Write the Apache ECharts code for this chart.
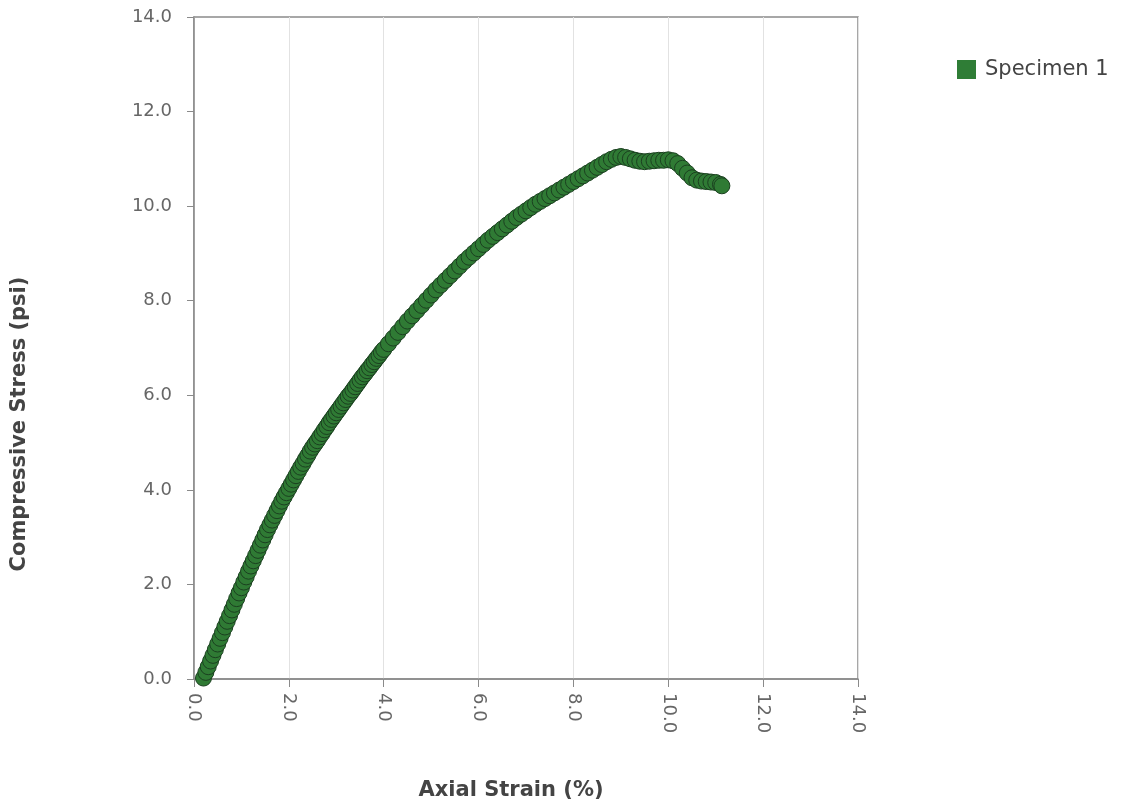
<!DOCTYPE html>
<html>
<head>
<meta charset="utf-8">
<script src="https://cdn.jsdelivr.net/npm/echarts@6/dist/echarts.min.js"></script>
<style>html,body{margin:0;padding:0;background:#fff;}#c{width:1127px;height:807px;}</style>
</head>
<body>
<div id="c"></div>
<script>
const seriesName = 'Specimen 1';
const xTitle = 'Axial Strain (%)';
const yTitle = 'Compressive Stress (psi)';
const strain = [0.2,0.25,0.3,0.35,0.4,0.45,0.5,0.55,0.6,0.65,0.7,0.75,0.8,0.85,0.9,0.95,1.0,1.05,1.1,1.15,1.2,1.25,1.3,1.35,1.4,1.45,1.5,1.55,1.6,1.65,1.7,1.75,1.8,1.85,1.9,1.95,2.0,2.05,2.1,2.15,2.2,2.25,2.3,2.35,2.4,2.45,2.5,2.55,2.6,2.65,2.7,2.75,2.8,2.85,2.9,2.95,3.0,3.05,3.1,3.15,3.2,3.25,3.3,3.35,3.4,3.45,3.5,3.55,3.6,3.65,3.7,3.75,3.8,3.85,3.9,3.95,4.0,4.1,4.2,4.3,4.4,4.5,4.6,4.7,4.8,4.9,5.0,5.1,5.2,5.3,5.4,5.5,5.6,5.7,5.8,5.9,6.0,6.1,6.2,6.3,6.4,6.5,6.6,6.7,6.8,6.9,7.0,7.1,7.2,7.3,7.4,7.5,7.6,7.7,7.8,7.9,8.0,8.1,8.2,8.3,8.4,8.5,8.6,8.7,8.8,8.9,9.0,9.1,9.2,9.3,9.4,9.5,9.6,9.7,9.8,9.9,10.0,10.1,10.2,10.3,10.4,10.5,10.6,10.7,10.8,10.9,11.0,11.1,11.13];
const stress = [0.02,0.14,0.26,0.38,0.50,0.62,0.74,0.86,0.98,1.10,1.22,1.34,1.46,1.58,1.70,1.82,1.93,2.05,2.16,2.28,2.39,2.50,2.61,2.72,2.83,2.94,3.05,3.16,3.26,3.36,3.46,3.56,3.66,3.76,3.85,3.94,4.03,4.12,4.21,4.30,4.39,4.48,4.56,4.65,4.73,4.82,4.90,4.97,5.04,5.12,5.19,5.27,5.34,5.42,5.49,5.56,5.63,5.70,5.77,5.84,5.91,5.98,6.04,6.11,6.18,6.25,6.32,6.39,6.45,6.52,6.58,6.65,6.71,6.78,6.84,6.91,6.97,7.09,7.21,7.33,7.45,7.57,7.68,7.79,7.90,8.01,8.12,8.23,8.33,8.43,8.53,8.63,8.73,8.83,8.92,9.01,9.10,9.19,9.28,9.36,9.44,9.52,9.60,9.68,9.76,9.83,9.90,9.97,10.04,10.10,10.16,10.22,10.28,10.34,10.40,10.46,10.52,10.58,10.64,10.70,10.76,10.82,10.88,10.94,10.99,11.03,11.05,11.03,11.00,10.97,10.95,10.94,10.95,10.96,10.97,10.97,10.98,10.96,10.90,10.80,10.70,10.60,10.55,10.53,10.52,10.51,10.50,10.46,10.43];
const points = strain.map((s, i) => [s, stress[i]]);

const chart = echarts.init(document.getElementById('c'), null, {renderer: 'canvas'});
const labelStyle = {color: '#666', fontSize: 18, fontFamily: 'DejaVu Sans'};
chart.setOption({
  animation: false,
  backgroundColor: '#fff',
  grid: {left: 194, right: 269, top: 17, bottom: 128, show: true, borderColor: '#8a8a8a', borderWidth: 1.5, backgroundColor: 'transparent'},
  legend: {
    left: 952, top: 54, orient: 'vertical', icon: 'rect', itemWidth: 19, itemHeight: 19,
    textStyle: {color: '#444', fontSize: 21, fontFamily: 'DejaVu Sans', padding: [0, 0, 0, 4]},
    data: [{name: seriesName, itemStyle: {color: '#2f7d36', borderWidth: 0}}]
  },
  xAxis: {
    type: 'value', min: 0, max: 14, interval: 2,
    name: xTitle, nameLocation: 'middle', nameGap: 101,
    nameTextStyle: {fontFamily: 'DejaVu Sans', fontWeight: 'bold', fontSize: 21, color: '#444', padding: [0, 30, 0, 0]},
    axisLine: {lineStyle: {color: '#8a8a8a', width: 1.5}},
    axisTick: {show: true, length: 8, lineStyle: {color: '#8a8a8a'}},
    axisLabel: Object.assign({rotate: -90, margin: 14, formatter: v => v.toFixed(1)}, labelStyle),
    splitLine: {show: true, lineStyle: {color: '#e2e2e2', width: 1}}
  },
  yAxis: {
    type: 'value', min: 0, max: 14, interval: 2,
    name: yTitle, nameLocation: 'middle', nameGap: 164, nameRotate: 90,
    nameTextStyle: {fontFamily: 'DejaVu Sans', fontWeight: 'bold', fontSize: 21, color: '#444', padding: [0, 152, 0, 0]},
    axisLine: {show: true, lineStyle: {color: '#8a8a8a', width: 1.5}},
    axisTick: {show: true, length: 7, lineStyle: {color: '#8a8a8a'}},
    axisLabel: Object.assign({margin: 22, formatter: v => v.toFixed(1)}, labelStyle),
    splitLine: {show: false}
  },
  series: [{
    name: seriesName, type: 'scatter', data: points,
    symbol: 'circle', symbolSize: 16,
    itemStyle: {color: '#2f7a34', borderColor: '#1b4020', borderWidth: 1, opacity: 1}
  }]
});
</script>
</body>
</html>
